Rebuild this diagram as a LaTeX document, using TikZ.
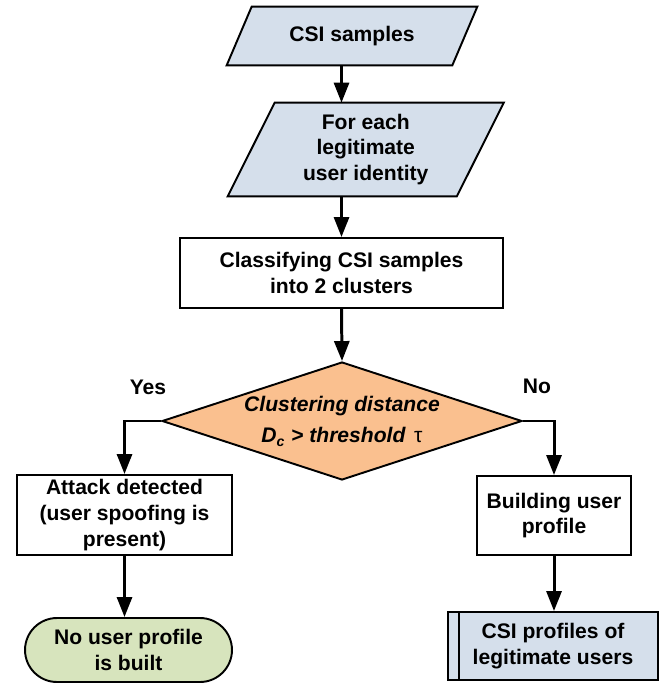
\documentclass[tikz,border=0pt]{standalone}
\usepackage{fontspec}
\setmainfont{Liberation Sans}
\usetikzlibrary{shapes.geometric}
\usetikzlibrary{arrows.meta}
\usetikzlibrary{backgrounds}
\definecolor{csiblue}{RGB}{213,223,235}
\definecolor{decorange}{RGB}{250,192,143}
\definecolor{endgreen}{RGB}{215,228,189}

\begin{document}
\begin{tikzpicture}[x=0.02cm,y=-0.02cm,
  txt/.style={rectangle, align=center, inner sep=0pt, font=\fontsize{12}{14.7}\selectfont\bfseries},
  proc/.style={txt, draw, line width=1.1pt},
  iofill/.style={draw, fill=csiblue, line width=1.1pt},
  flow/.style={line width=1.7pt, -{Triangle[length=0.4cm,width=0.3cm]}}]
\useasboundingbox (0,0) rectangle (666,689);
\node[txt, minimum width=4.5cm, minimum height=1.16cm] (csi) at (352,36) {CSI samples};
\node[txt, minimum width=4.57cm, minimum height=1.86cm] (user) at (365.75,149.5) {For each\\legitimate\\user identity};
\node[proc, minimum width=6.46cm, minimum height=1.4cm] (cls) at (341.5,273) {Classifying CSI samples\\into 2 clusters};
\node[txt, diamond, aspect=3.05, draw, fill=decorange, line width=1.1pt, minimum width=7.2cm, minimum height=2.36cm,
  font=\fontsize{12}{14.7}\selectfont\bfseries\itshape] (dec) at (342,421)
  {Clustering distance\\[3.5pt] D\textsubscript{c} > threshold\hspace{5pt}{\mdseries\upshape τ}};
\node[txt] (yes) at (148,387) {Yes};
\node[txt] (no) at (537,386) {No};
\node[proc, minimum width=4.3cm, minimum height=1.6cm] (atk) at (124.5,515) {Attack detected\\(user spoofing is\\present)};
\node[proc, minimum width=3.08cm, minimum height=1.58cm] (bld) at (554,515.5) {Building user\\profile};
\node[proc, fill=endgreen, rounded corners=0.64cm, minimum width=4.14cm, minimum height=1.28cm] (none) at (128.5,650) {No user profile\\is built};
\node[proc, fill=csiblue, minimum width=4.2cm, minimum height=1.36cm] (prof) at (553,646) {CSI profiles of\\legitimate users};
\draw[line width=1.1pt] ([xshift=0.24cm]prof.north west) -- ([xshift=0.24cm]prof.south west);
\begin{scope}[on background layer]
\draw[iofill] ([xshift=-0.25cm]csi.south west) -- ([xshift=0.25cm]csi.north west)
  -- ([xshift=0.25cm]csi.north east) -- ([xshift=-0.25cm]csi.south east) -- cycle;
\draw[iofill] ([xshift=-0.47cm]user.south west) -- ([xshift=0.47cm]user.north west)
  -- ([xshift=0.47cm]user.north east) -- ([xshift=-0.47cm]user.south east) -- cycle;
\end{scope}
\draw[flow] (csi.south -| cls.north) -- (user.north -| cls.north);
\draw[flow] (user.south -| cls.north) -- (cls.north);
\draw[flow] (cls.south) -- (dec.north);
\draw[flow] (dec.west) -| (atk.north);
\draw[flow] (dec.east) -| (bld.north);
\draw[flow] (atk.south) -- (atk.south |- none.north);
\draw[flow] (bld.south) -- (bld.south |- prof.north);
\end{tikzpicture}
\end{document}
